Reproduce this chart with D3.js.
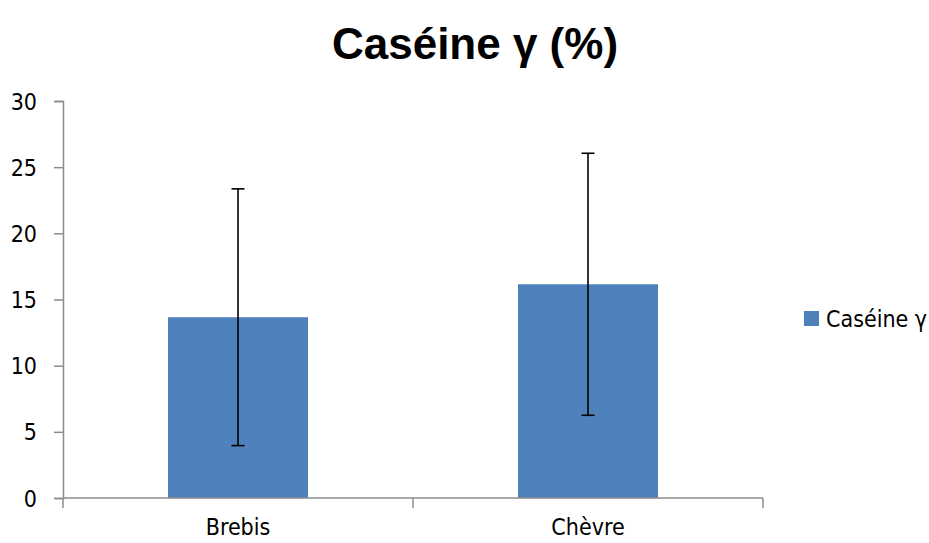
<!DOCTYPE html>
<html>
<head>
<meta charset="utf-8">
<title>Caséine γ</title>
<script src="https://d3js.org/d3.v7.min.js"></script>
<style>
  body { margin: 0; background: #fff; }
  text { font-family: "DejaVu Sans Condensed", "DejaVu Sans", sans-serif; fill: #000; }
</style>
</head>
<body>
<svg width="929" height="543"></svg>
<script>
// data
var categories = ["Brebis", "Chèvre"];
var values = [13.66, 16.15];
var errors = [9.7, 9.9];
var yTicks = [0, 5, 10, 15, 20, 25, 30];
var seriesName = "Caséine γ";

var svg = d3.select("svg");
var plotLeft = 63, plotRight = 763, plotTop = 101, plotBottom = 498;

var x = d3.scaleBand()
  .domain(categories)
  .range([plotLeft, plotRight])
  .paddingInner(0)
  .paddingOuter(0);

var y = d3.scaleLinear()
  .domain([0, 30])
  .range([plotBottom, plotTop]);

// title
svg.append("text")
  .attr("x", 475)
  .attr("y", 59)
  .attr("text-anchor", "middle")
  .style("font-family", "'Liberation Sans', Arial, sans-serif")
  .style("font-weight", "bold")
  .style("font-size", "44px")
  .text("Caséine γ (%)");

// bars
var barW = 140;
svg.selectAll("rect.bar")
  .data(values)
  .enter().append("rect")
    .attr("class", "bar")
    .attr("x", function(d, i) { return x(categories[i]) + x.bandwidth() / 2 - barW / 2; })
    .attr("y", function(d) { return y(d); })
    .attr("width", barW)
    .attr("height", function(d) { return plotBottom - y(d); })
    .style("fill", "#4f81bd");

// y axis
var gy = svg.append("g")
  .attr("transform", "translate(" + plotLeft + ",0)")
  .call(d3.axisLeft(y).tickValues(yTicks).tickSize(9).tickPadding(17));
gy.selectAll("text").style("font-size", "23px").attr("dy", "0.35em");

// x axis
var gx = svg.append("g")
  .attr("transform", "translate(0," + plotBottom + ")");
gx.append("line")
  .attr("x1", plotLeft).attr("x2", plotRight)
  .attr("y1", 0).attr("y2", 0);
gx.selectAll("line.tick")
  .data([plotLeft, plotLeft + x.bandwidth(), plotRight])
  .enter().append("line")
    .attr("class", "tick")
    .attr("x1", function(d) { return d; })
    .attr("x2", function(d) { return d; })
    .attr("y1", 0).attr("y2", 10);
gx.selectAll("text")
  .data(categories)
  .enter().append("text")
    .attr("x", function(d) { return x(d) + x.bandwidth() / 2; })
    .attr("y", 37)
    .attr("text-anchor", "middle")
    .style("font-size", "23px")
    .text(function(d) { return d; });

svg.selectAll("g path.domain, g line")
  .style("stroke", "#8c8c8c")
  .style("stroke-width", 1.5);

// error bars
var eb = svg.selectAll("g.err")
  .data(values)
  .enter().append("g")
    .attr("class", "err")
    .style("stroke", "#000")
    .style("stroke-width", 1.6);
function cx(i) { return x(categories[i]) + x.bandwidth() / 2; }
eb.append("line")
  .attr("x1", function(d, i) { return cx(i); })
  .attr("x2", function(d, i) { return cx(i); })
  .attr("y1", function(d, i) { return y(d + errors[i]); })
  .attr("y2", function(d, i) { return y(d - errors[i]); });
eb.append("line")
  .attr("x1", function(d, i) { return cx(i) - 6.5; })
  .attr("x2", function(d, i) { return cx(i) + 6.5; })
  .attr("y1", function(d, i) { return y(d + errors[i]); })
  .attr("y2", function(d, i) { return y(d + errors[i]); });
eb.append("line")
  .attr("x1", function(d, i) { return cx(i) - 6.5; })
  .attr("x2", function(d, i) { return cx(i) + 6.5; })
  .attr("y1", function(d, i) { return y(d - errors[i]); })
  .attr("y2", function(d, i) { return y(d - errors[i]); });

// legend
var legend = svg.append("g");
legend.append("rect")
  .attr("x", 804).attr("y", 311)
  .attr("width", 15).attr("height", 15)
  .style("fill", "#4f81bd");
legend.append("text")
  .attr("x", 826).attr("y", 327)
  .style("font-size", "23px")
  .text(seriesName);
</script>
</body>
</html>
